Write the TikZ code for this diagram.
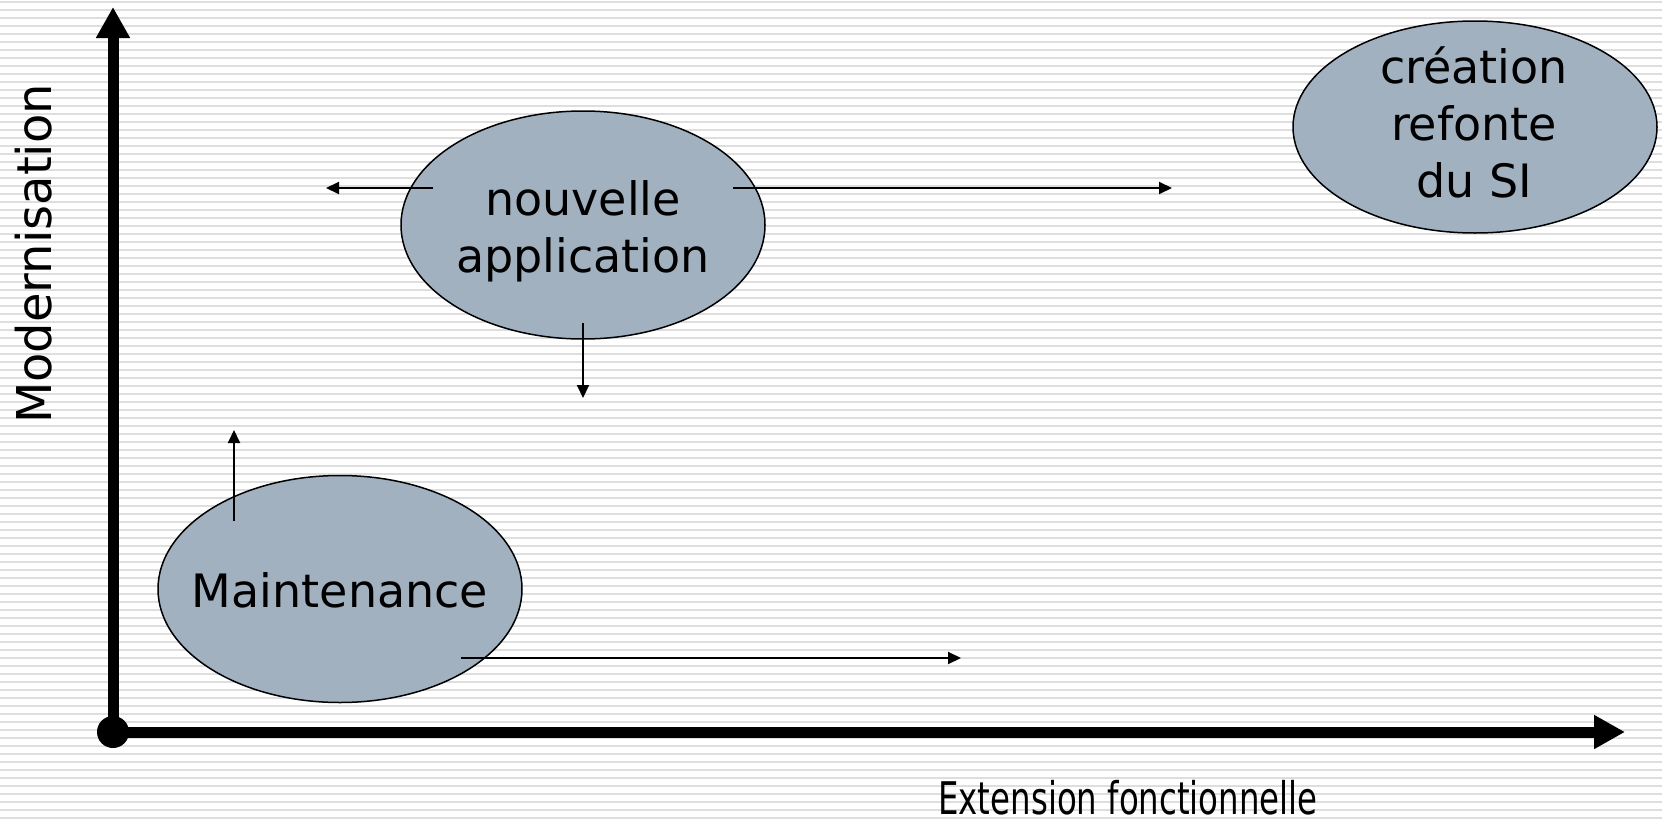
\documentclass[tikz,border=0pt]{standalone}
\usepackage{fontspec}
\setmainfont{DejaVu Sans}
\usetikzlibrary{shapes.geometric,arrows.meta}
\definecolor{ellfill}{RGB}{162,177,192}
\definecolor{stripe}{RGB}{222,222,222}
\tikzset{
  ell/.style={ellipse, draw=black, line width=1.5pt, fill=ellfill, inner sep=0pt},
  lbl/.style={align=center, inner sep=0pt, font=\fontsize{46}{57}\selectfont},
  axis/.style={line width=11pt, -{Triangle[length=31pt,width=32pt]}},
  arr/.style={line width=2pt, -{Triangle[length=13pt,width=12pt]}},
}
\begin{document}
\begin{tikzpicture}[x=1pt,y=-1pt]
\useasboundingbox (0,0) rectangle (1662,822);
\fill[white] (0,0) rectangle (1662,822);
\foreach \k in {0,...,102} {
  \draw[stripe, line width=1.6pt] (0,2+8*\k) -- (1662,2+8*\k);
}
% axes
\coordinate (origin) at (113,732);
\coordinate (ytop) at (113,7);
\coordinate (xend) at (1625,732);
\draw[axis] (origin) -- (ytop);
\draw[axis] (origin) -- (xend);
\fill[black] (origin) circle (16);
% axis labels
\node[rotate=90, inner sep=0pt, font=\fontsize{48}{58}\selectfont] (ylab) at (34,254) {Modernisation};
\node[anchor=base, inner sep=0pt, xscale=0.72, font=\fontsize{45}{54}\selectfont] (xlab) at (1128,814) {Extension fonctionnelle};
% ellipses
\node[ell, minimum width=364pt, minimum height=227pt] (maint) at (340,589) {};
\node[lbl, anchor=base] (maintt) at (340,607) {Maintenance};
\node[ell, minimum width=364pt, minimum height=228pt] (nouv) at (583,225) {};
\node[lbl] (nouvt) at (583,231) {nouvelle\\application};
\node[ell, minimum width=364pt, minimum height=212pt] (crea) at (1475,127) {};
\node[lbl] (creat) at (1474,122) {création\\refonte\\du SI};
% arrows
\coordinate (nl0) at (433,188);
\coordinate (nl1) at (326,188);
\coordinate (nr0) at (733,188);
\coordinate (nr1) at (1172,188);
\coordinate (nd0) at (583,323);
\coordinate (nd1) at (583,398);
\coordinate (mu0) at (234,521);
\coordinate (mu1) at (234,430);
\coordinate (mr0) at (461,658);
\coordinate (mr1) at (961,658);
\draw[arr] (nl0) -- (nl1);
\draw[arr] (nr0) -- (nr1);
\draw[arr] (nd0) -- (nd1);
\draw[arr] (mu0) -- (mu1);
\draw[arr] (mr0) -- (mr1);
\end{tikzpicture}
\end{document}
